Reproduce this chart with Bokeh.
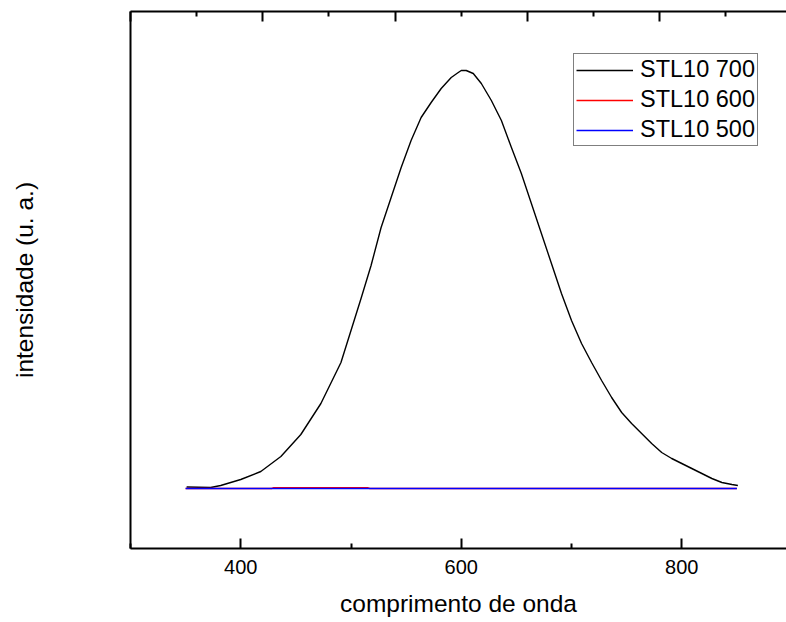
from bokeh.plotting import figure
from bokeh.models import (Range1d, LinearAxis, FixedTicker, CustomJSTickFormatter,
                          Legend, LegendItem)
from bokeh.embed import file_html
from bokeh.resources import INLINE

# ---- data ----
wl_700 = [350.9, 372.7, 381.8, 400.0, 418.2, 436.4, 454.5, 472.7, 490.9, 509.1,
          518.2, 527.3, 536.4, 545.5, 554.5, 563.6, 572.7, 581.8, 590.9, 597.3,
          600.0, 604.5, 610.9, 618.2, 627.3, 636.4, 645.5, 654.5, 663.6, 672.7,
          681.8, 690.9, 700.0, 709.1, 718.2, 727.3, 736.4, 745.5, 754.5, 763.6,
          772.7, 781.8, 790.9, 800.0, 809.1, 818.2, 827.3, 836.4, 845.5, 850.9]
int_700 = [15, 10, 30, 90, 170, 320, 540, 850, 1260, 1900,
           2230, 2610, 2910, 3210, 3480, 3710, 3860, 4000, 4110, 4160,
           4180, 4180, 4150, 4050, 3880, 3680, 3410, 3150, 2850, 2550,
           2250, 1950, 1680, 1450, 1260, 1080, 910, 760, 650, 550,
           450, 360, 300, 250, 200, 150, 100, 60, 40, 30]

wl_600 = [350.0, 428.0, 430.0, 515.0, 517.0, 850.0]
int_600 = [0, 0, 9, 9, 0, 0]

wl_500 = [350.0, 850.0]
int_500 = [0, 0]

labels = ["STL10 700", "STL10 600", "STL10 500"]
colors = ["#000000", "#ff0000", "#0000ff"]

bottom_major = [400, 600, 800]
bottom_minor = [300, 500, 700, 900]
top_major = [300, 420, 540, 660, 780, 900]
top_minor = [360, 480, 600, 720, 840]

FONT = "Liberation Sans"

p = figure(width=786, height=622, output_backend="svg", toolbar_location=None,
           x_range=Range1d(300, 895.0), y_range=Range1d(-600, 4770),
           x_axis_location=None, y_axis_location=None,
           min_border_left=130, min_border_right=0, min_border_top=11,
           min_border_bottom=74)
p.outline_line_color = None
p.xgrid.visible = False
p.ygrid.visible = False
p.background_fill_color = "white"
p.border_fill_color = "white"

r700 = p.line(wl_700, int_700, line_color=colors[0], line_width=1.4)
r600 = p.line(wl_600, int_600, line_color=colors[1], line_width=1.4)
r500 = p.line(wl_500, int_500, line_color=colors[2], line_width=1.4)

# bottom axis
xb = LinearAxis(ticker=FixedTicker(ticks=bottom_major, minor_ticks=bottom_minor),
                axis_label="comprimento de onda")
xb.axis_line_width = 2
xb.major_tick_in = 10
xb.major_tick_out = 0
xb.minor_tick_in = 5
xb.minor_tick_out = 0
xb.major_tick_line_width = 2
xb.minor_tick_line_width = 2
xb.major_label_text_font = FONT
xb.major_label_text_font_size = "20px"
xb.major_label_text_color = "black"
xb.major_label_standoff = 11
xb.axis_label_text_font = FONT
xb.axis_label_text_font_size = "24.5px"
xb.axis_label_text_font_style = "normal"
xb.axis_label_text_color = "black"
xb.axis_label_standoff = 13
p.add_layout(xb, "below")

# top axis (ticks only)
xt = LinearAxis(ticker=FixedTicker(ticks=top_major, minor_ticks=top_minor),
                formatter=CustomJSTickFormatter(code="return ''"))
xt.axis_line_width = 2
xt.major_tick_in = 10
xt.major_tick_out = 0
xt.minor_tick_in = 5
xt.minor_tick_out = 0
xt.major_tick_line_width = 2
xt.minor_tick_line_width = 2
xt.major_label_text_font_size = "0px"
xt.major_label_standoff = 0
p.add_layout(xt, "above")

# left axis (line and title only)
yl = LinearAxis(ticker=FixedTicker(ticks=[]), axis_label="intensidade (u. a.)",
                formatter=CustomJSTickFormatter(code="return ''"))
yl.axis_line_width = 2
yl.major_tick_in = 0
yl.major_tick_out = 0
yl.minor_tick_in = 0
yl.minor_tick_out = 0
yl.major_label_text_font_size = "0px"
yl.major_label_standoff = 0
yl.axis_label_text_font = FONT
yl.axis_label_text_font_size = "24.5px"
yl.axis_label_text_font_style = "normal"
yl.axis_label_text_color = "black"
yl.axis_label_standoff = 93
p.add_layout(yl, "left")

legend = Legend(items=[LegendItem(label=labels[0], renderers=[r700]),
                       LegendItem(label=labels[1], renderers=[r600]),
                       LegendItem(label=labels[2], renderers=[r500])],
                location=(443, 402))
legend.label_text_font = FONT
legend.label_text_font_size = "23.5px"
legend.label_text_color = "black"
legend.glyph_width = 57
legend.glyph_height = 20
legend.label_standoff = 7
legend.spacing = 3
legend.padding = 2
legend.margin = 0
legend.border_line_color = "black"
legend.border_line_width = 1
legend.background_fill_alpha = 1.0
p.add_layout(legend, "center")

open("out.html", "w").write(file_html(p, INLINE))
